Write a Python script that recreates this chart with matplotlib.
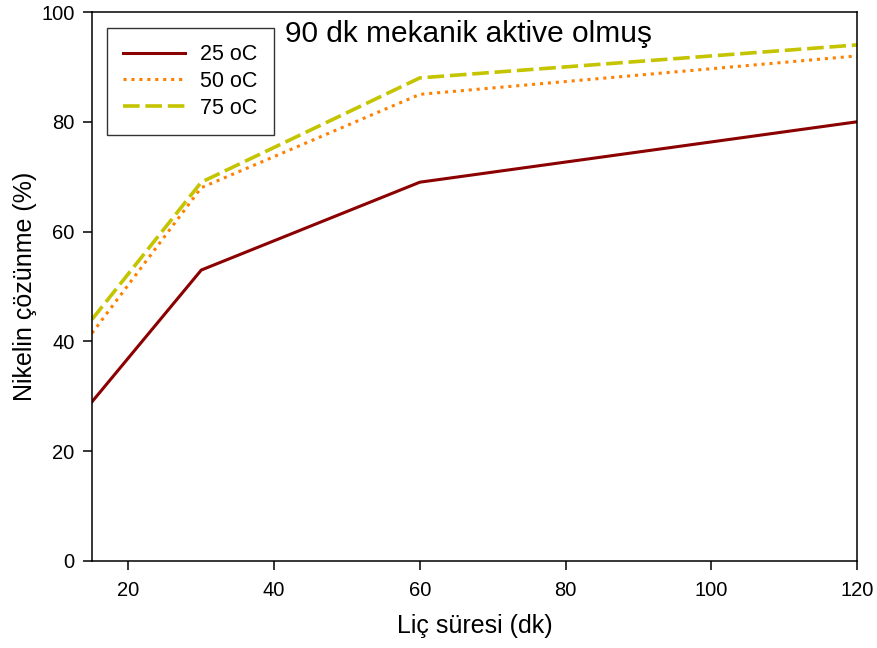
import matplotlib
matplotlib.use("Agg")
import matplotlib.pyplot as plt

plt.rcParams["font.family"] = ["Liberation Sans", "DejaVu Sans"]

time_min = [15, 30, 60, 120]
ni_25 = [29, 53, 69, 80]
ni_50 = [41.5, 68, 85, 92]
ni_75 = [44, 69, 88, 94]

fig = plt.figure(figsize=(8.77, 6.48), dpi=100)
ax = fig.add_axes([92 / 877, 1 - 561 / 648, (857 - 92) / 877, (561 - 12) / 648])

ax.plot(time_min, ni_25, color="#8b0000", lw=2.2, ls="-", label="25 oC")
ax.plot(time_min, ni_50, color="#ff8000", lw=2.2, ls=(0, (1, 1.6)), label="50 oC")
ax.plot(time_min, ni_75, color="#c4c400", lw=2.6, ls=(0, (4.6, 1.6)), label="75 oC")

ax.set_xlim(15, 120)
ax.set_ylim(0, 100)
ax.set_xticks([20, 40, 60, 80, 100, 120])
ax.set_yticks([0, 20, 40, 60, 80, 100])
ax.tick_params(direction="out", length=6.5, width=1.1, labelsize=14.5, pad=6,
               top=False, right=False)
ax.tick_params(axis="x", pad=8)
for s in ax.spines.values():
    s.set_linewidth(1.1)

ax.set_xlabel("Liç süresi (dk)", fontsize=18, labelpad=10)
ax.set_ylabel("Nikelin çözünme (%)", fontsize=18, labelpad=3)

ax.text(0.252, 0.96, "90 dk mekanik aktive olmuş", transform=ax.transAxes,
        fontsize=21.5, va="center", ha="left")

leg = ax.legend(loc="upper left", bbox_to_anchor=(0.019, 0.971), fontsize=15.5,
                frameon=True, fancybox=False, edgecolor="black", handlelength=2.9,
                borderpad=0.75, labelspacing=0.27, handletextpad=0.7, borderaxespad=0)
leg.get_frame().set_linewidth(1.0)

fig.savefig("out.png", dpi=100)
